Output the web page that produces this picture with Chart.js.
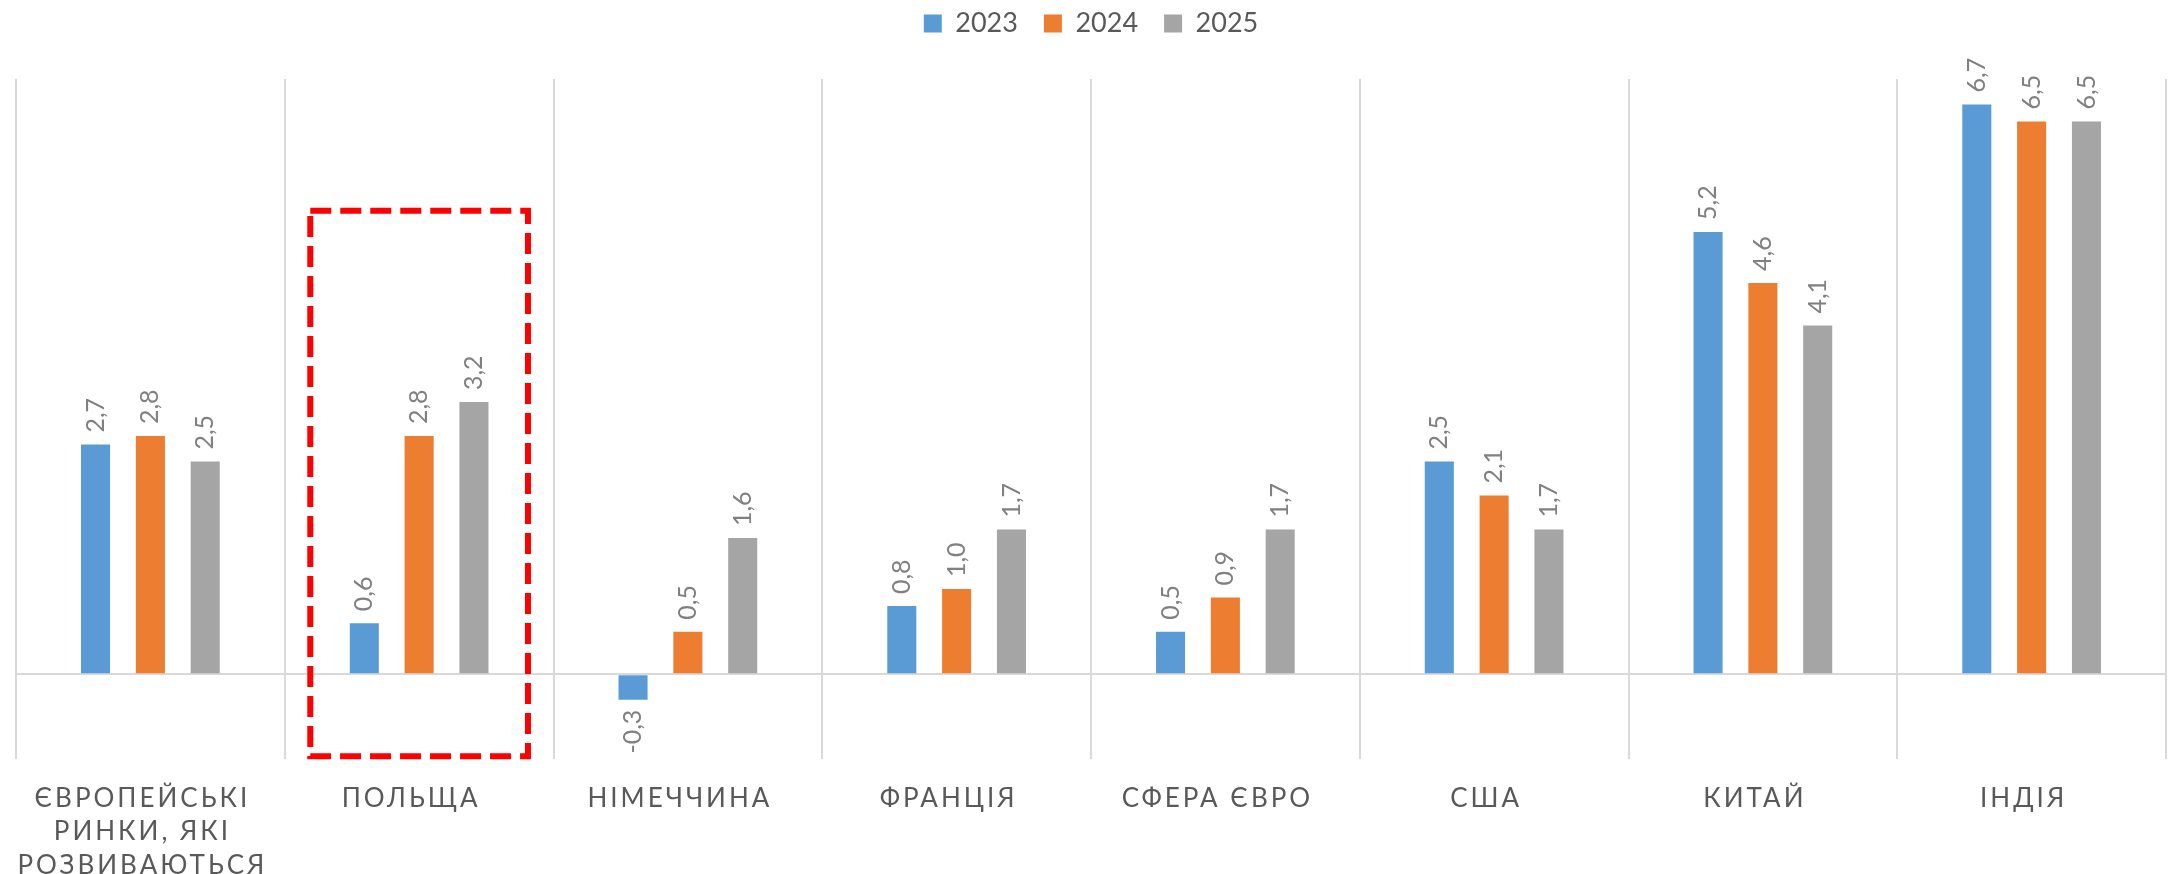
<!DOCTYPE html>
<html>
<head>
<meta charset="utf-8">
<script src="https://cdn.jsdelivr.net/npm/chart.js@4/dist/chart.umd.min.js"></script>
<style>
  html, body { margin: 0; padding: 0; background: #fff; }
  #wrap { width: 2177px; height: 874px; position: relative; }
</style>
</head>
<body>
<div id="wrap"><canvas id="chart"></canvas></div>
<script>
// categories (multi-line label for the first one)
var categories = [
  ['ЄВРОПЕЙСЬКІ', 'РИНКИ, ЯКІ', 'РОЗВИВАЮТЬСЯ'],
  'ПОЛЬЩА', 'НІМЕЧЧИНА', 'ФРАНЦІЯ', 'СФЕРА ЄВРО', 'США', 'КИТАЙ', 'ІНДІЯ'
];
var years = ['2023', '2024', '2025'];
var values2023 = [2.7, 0.6, -0.3, 0.8, 0.5, 2.5, 5.2, 6.7];
var values2024 = [2.8, 2.8, 0.5, 1.0, 0.9, 2.1, 4.6, 6.5];
var values2025 = [2.5, 3.2, 1.6, 1.7, 1.7, 1.7, 4.1, 6.5];
var colors = ['#5B9BD5', '#ED7D31', '#A5A5A5'];

// highlighted group (red dashed frame)
var highlightIndex = 1;
var highlightTop = 5.45;

var FONT = 'Lato, "Open Sans", sans-serif';

// rotated value labels above / below each bar
var valueLabels = {
  id: 'valueLabels',
  afterDatasetsDraw: function(chart) {
    var ctx = chart.ctx;
    ctx.save();
    ctx.font = '25px ' + FONT;
    ctx.fillStyle = '#808080';
    ctx.textBaseline = 'middle';
    chart.data.datasets.forEach(function(ds, i) {
      chart.getDatasetMeta(i).data.forEach(function(bar, j) {
        var v = ds.data[j];
        var txt = v.toFixed(1).replace('.', ',');
        ctx.save();
        ctx.translate(bar.x, bar.y);
        ctx.rotate(-Math.PI / 2);
        if (v >= 0) {
          ctx.textAlign = 'left';
          ctx.fillText(txt, 12, 0);
        } else {
          ctx.textAlign = 'right';
          ctx.fillText(txt, -10, 0);
        }
        ctx.restore();
      });
    });
    ctx.restore();

    // red dashed frame round the highlighted group
    var x = chart.scales.x, y = chart.scales.y;
    var cw = (x.getPixelForValue(1) - x.getPixelForValue(0));
    var cx = x.getPixelForValue(highlightIndex);
    ctx.save();
    ctx.strokeStyle = '#FF0000';
    ctx.lineWidth = 6;
    ctx.setLineDash([21, 9]);
    ctx.strokeRect(cx - cw * 0.405, y.getPixelForValue(highlightTop),
      cw * 0.81, y.getPixelForValue(y.min) - y.getPixelForValue(highlightTop) - 3);
    ctx.restore();
  }
};

// spaced-out category labels, extra room under the legend
var tweaks = {
  id: 'tweaks',
  beforeLayout: function(chart) {
    var lg = chart.legend;
    if (lg && !lg._wrapped) {
      var fit = lg.fit;
      lg.fit = function() { fit.call(this); this.height += 32; };
      lg._wrapped = true;
    }
  },
  beforeDraw: function(chart) {
    var sx = chart.scales.x;
    if (sx && !sx._spaced) {
      var orig = sx.drawLabels;
      sx.drawLabels = function(area) {
        this.ctx.save();
        this.ctx.letterSpacing = '3px';
        orig.call(this, area);
        this.ctx.restore();
      };
      sx._spaced = true;
    }
  }
};

new Chart(document.getElementById('chart'), {
  type: 'bar',
  data: {
    labels: categories,
    datasets: [
      { label: years[0], data: values2023, backgroundColor: colors[0] },
      { label: years[1], data: values2024, backgroundColor: colors[1] },
      { label: years[2], data: values2025, backgroundColor: colors[2] }
    ]
  },
  options: {
    responsive: true,
    maintainAspectRatio: false,
    animation: false,
    categoryPercentage: 0.612,
    barPercentage: 0.53,
    layout: { padding: { left: 16, right: 11, top: -16, bottom: 0 } },
    plugins: {
      legend: {
        position: 'top',
        labels: {
          boxWidth: 18, boxHeight: 18, padding: 26,
          color: '#595959',
          font: { family: FONT, size: 27 }
        }
      },
      tooltip: { enabled: false }
    },
    scales: {
      x: {
        grid: { color: '#D9D9D9', lineWidth: 2, offset: true, drawTicks: false },
        border: { display: false },
        afterFit: function(s) { s.height -= 31; },
        ticks: {
          color: '#595959', padding: 23, maxRotation: 0, autoSkip: false,
          labelOffset: -8,
          font: { family: FONT, size: 26, lineHeight: 1.28 }
        }
      },
      y: {
        min: -1, max: 7,
        ticks: { display: false, stepSize: 1 },
        border: { display: false },
        grid: {
          drawTicks: false, lineWidth: 2,
          color: function(c) { return c.tick && c.tick.value === 0 ? '#D9D9D9' : 'rgba(0,0,0,0)'; }
        }
      }
    }
  },
  plugins: [valueLabels, tweaks]
});
</script>
</body>
</html>
